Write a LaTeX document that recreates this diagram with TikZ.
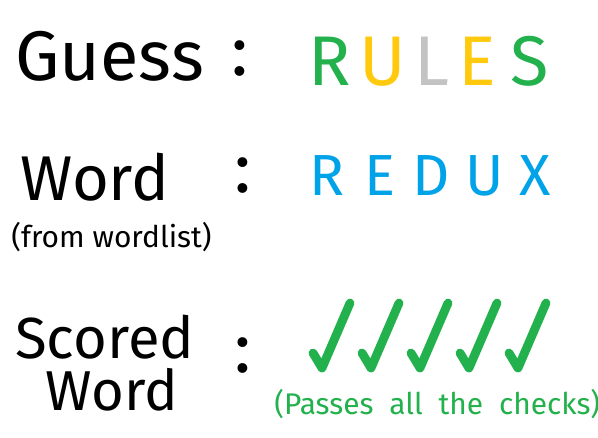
\documentclass[tikz,border=0pt]{standalone}
\usepackage{fontspec}
\setmainfont{Fira Sans}
\definecolor{pgreen}{HTML}{22B14C}
\definecolor{pyellow}{HTML}{FFC90E}
\definecolor{pgrey}{HTML}{C3C3C3}
\definecolor{pblue}{HTML}{00A2E8}
\tikzset{
  label/.style={anchor=base west,inner sep=0pt},
  colon/.style={anchor=base,inner sep=0pt,font=\fontsize{40}{40}\selectfont},
  guessletter/.style={anchor=base,inner sep=0pt,font=\fontsize{40}{40}\selectfont},
  wordletter/.style={anchor=base,inner sep=0pt,text=pblue,font=\fontsize{33}{33}\selectfont},
  tick/.style={draw=pgreen,line width=5pt,line cap=round,line join=round}
}
\begin{document}
\begin{tikzpicture}[x=0.02cm,y=-0.02cm]
\useasboundingbox (0,0) rectangle (598,437);
\fill[white] (0,0) rectangle (598,437);
% left column
\node[label,font=\fontsize{40}{40}\selectfont] (guess) at (15,80) {Guess};
\node[label,font=\fontsize{36}{36}\selectfont] (word) at (20,200) {Word};
\node[label,font=\fontsize{17}{17}\selectfont] (from) at (11,247) {(from wordlist)};
\node[label,font=\fontsize{33}{33}\selectfont] (scored) at (15,358) {Scored};
\node[label,font=\fontsize{32}{32}\selectfont] (word2) at (45,410) {Word};
% colons
\node[colon] (c1) at (240,75) {:};
\node[colon] (c2) at (243,192) {:};
\node[colon] (c3) at (243,372) {:};
% guess
\node[guessletter,text=pgreen] (g1) at (330,85) {R};
\node[guessletter,text=pyellow] (g2) at (383,85) {U};
\node[guessletter,text=pgrey] (g3) at (432,85) {L};
\node[guessletter,text=pyellow] (g4) at (477,85) {E};
\node[guessletter,text=pgreen] (g5) at (530,85) {S};
% word
\node[wordletter] (w1) at (327,195) {R};
\node[wordletter] (w2) at (380,195) {E};
\node[wordletter] (w3) at (431,195) {D};
\node[wordletter] (w4) at (485,195) {U};
\node[wordletter] (w5) at (535,195) {X};
% checks
\foreach \i in {0,...,4}
  \draw[tick] ({313+49*\i},353) -- ({322+49*\i},368) -- ({350+49*\i},303);
\node[label,text=pgreen,font=\fontsize{17}{17}\selectfont] (passes) at (274,414) {(Passes\ \ all\ \ the\ \ checks)};
\end{tikzpicture}
\end{document}
